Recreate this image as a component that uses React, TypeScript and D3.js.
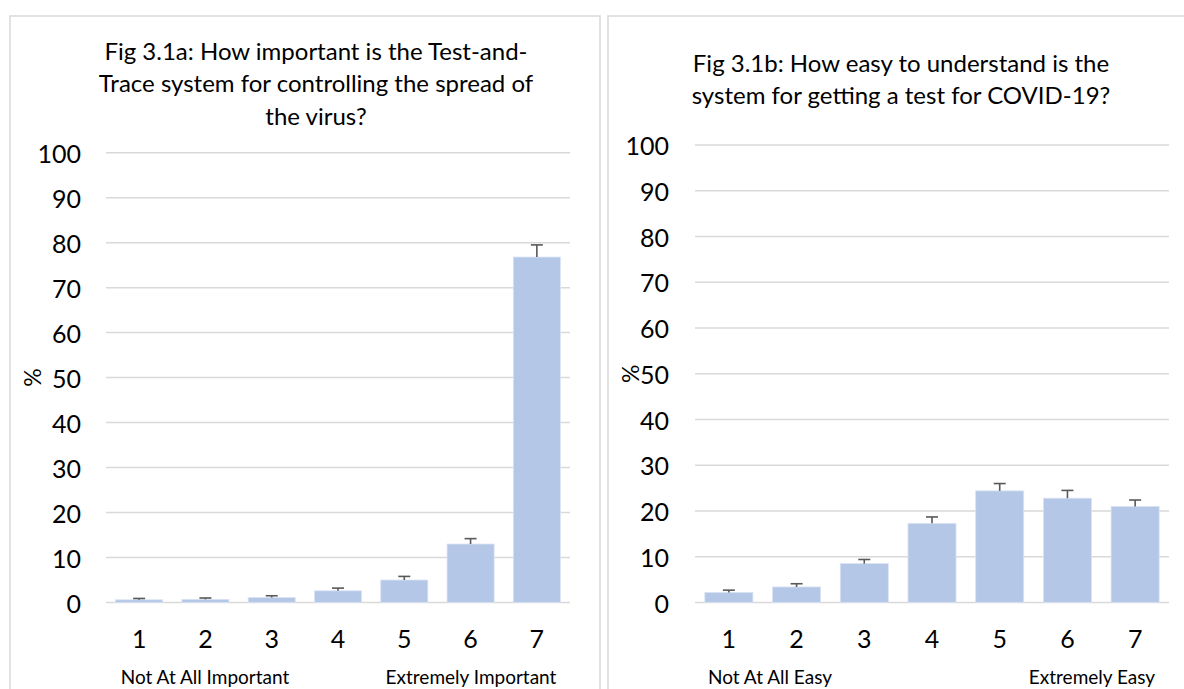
import React from "react";
import * as d3 from "d3";

const categories = ["1", "2", "3", "4", "5", "6", "7"];
const yTicks = [0, 10, 20, 30, 40, 50, 60, 70, 80, 90, 100];

const titleA = ["Fig 3.1a: How important is the Test-and-", "Trace system for controlling the spread of", "the virus?"];
const valuesA = [0.6, 0.7, 1.1, 2.6, 5.0, 13.0, 76.8];
const errorsA = [0.3, 0.3, 0.4, 0.6, 0.8, 1.2, 2.7];
const endLabelsA = ["Not At All Important", "Extremely Important"];

const titleB = ["Fig 3.1b: How easy to understand is the", "system for getting a test for COVID-19?"];
const valuesB = [2.2, 3.4, 8.5, 17.3, 24.4, 22.8, 21.0];
const errorsB = [0.5, 0.7, 0.9, 1.4, 1.6, 1.7, 1.4];
const endLabelsB = ["Not At All Easy", "Extremely Easy"];

const FONT = "Lato, 'Open Sans', sans-serif";

type PanelProps = {
  px: number;
  pw: number;
  x0: number;
  x1: number;
  yTop: number;
  yZero: number;
  labelRight: number;
  pctX: number;
  title: string[];
  titleX: number;
  titleY: number;
  values: number[];
  errors: number[];
  endLabels: string[];
  endX: number[];
};

function Panel(p: PanelProps) {
  const x = d3.scaleBand<string>().domain(categories).range([p.x0, p.x1]).paddingInner(0.29).paddingOuter(0.145);
  const y = d3.scaleLinear().domain([0, 100]).range([p.yZero, p.yTop]);
  const bw = x.bandwidth();
  return (
    <g>
      <rect x={p.px} y={16} width={p.pw} height={700} fill="#fff" stroke="#d9d9d9" strokeWidth={1.5} />
      {p.title.map((t, i) => (
        <text key={i} x={p.titleX} y={p.titleY + i * 32.5} textAnchor="middle" dominantBaseline="central" fontFamily={FONT} fontSize={24} fill="#000">
          {t}
        </text>
      ))}
      {yTicks.map((t) => (
        <g key={t}>
          <line x1={p.x0} x2={p.x1} y1={y(t)} y2={y(t)} stroke="#d9d9d9" strokeWidth={1.5} />
          <text x={p.labelRight} y={y(t)} textAnchor="end" dominantBaseline="central" fontFamily={FONT} fontSize={25} fill="#000">
            {t}
          </text>
        </g>
      ))}
      <text transform={`translate(${p.pctX},${y(50)}) rotate(-90)`} textAnchor="middle" dominantBaseline="central" fontFamily={FONT} fontSize={23} fill="#000">
        %
      </text>
      {categories.map((c, i) => {
        const cx = (x(c) as number) + bw / 2;
        const top = y(p.values[i]);
        const eTop = y(p.values[i] + p.errors[i]);
        return (
          <g key={c}>
            <rect x={x(c)} y={top} width={bw} height={p.yZero - top} fill="#b4c7e7" stroke="#dae3f3" strokeWidth={0.8} />
            <line x1={cx} x2={cx} y1={top} y2={eTop} stroke="#595959" strokeWidth={1.6} />
            <line x1={cx - 6} x2={cx + 6} y1={eTop} y2={eTop} stroke="#595959" strokeWidth={1.6} />
            <text x={cx} y={638} textAnchor="middle" dominantBaseline="central" fontFamily={FONT} fontSize={25} fill="#000">
              {c}
            </text>
          </g>
        );
      })}
      {p.endLabels.map((t, i) => (
        <text key={t} x={p.endX[i]} y={676} textAnchor="middle" dominantBaseline="central" fontFamily={FONT} fontSize={19} fill="#000">
          {t}
        </text>
      ))}
    </g>
  );
}

export default function App() {
  return (
    <svg width={1184} height={689} style={{ position: "absolute", left: 0, top: 0, background: "#fff" }}>
      <rect x={0} y={0} width={1184} height={689} fill="#fff" />
      <Panel
        px={10}
        pw={590}
        x0={106}
        x1={570}
        yTop={152.7}
        yZero={602.5}
        labelRight={81}
        pctX={32}
        title={titleA}
        titleX={316}
        titleY={50}
        values={valuesA}
        errors={errorsA}
        endLabels={endLabelsA}
        endX={[205, 471]}
      />
      <Panel
        px={608}
        pw={600}
        x0={695}
        x1={1169}
        yTop={145}
        yZero={602.5}
        labelRight={669}
        pctX={630}
        title={titleB}
        titleX={901}
        titleY={62}
        values={valuesB}
        errors={errorsB}
        endLabels={endLabelsB}
        endX={[770, 1092]}
      />
    </svg>
  );
}
